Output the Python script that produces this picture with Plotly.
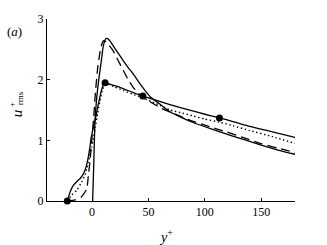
import plotly.graph_objects as go

# ---- data ----
solid1_x = [0.5, 1.5, 2.6, 4.1, 5.6, 7, 8.6, 10, 12.4, 15, 18.6, 23, 27.7, 32, 36.6, 42.6, 47, 52, 60, 69, 80, 90, 107, 120, 135, 150, 165, 180]
solid1_y = [0, 0.62, 1.33, 1.70, 1.95, 2.15, 2.37, 2.56, 2.68, 2.66, 2.56, 2.44, 2.31, 2.20, 2.09, 1.93, 1.82, 1.71, 1.60, 1.47, 1.37, 1.29, 1.18, 1.10, 1.01, 0.92, 0.84, 0.77]

dashed_x = [-22, -15, -10, -7.7, -4.7, -3.3, -1.8, -0.3, 1.5, 3, 5, 7, 8.5, 10, 12, 15, 18.6, 23, 27.7, 32, 36.6, 42, 47, 52, 60, 69, 87, 100, 119, 135, 149, 165, 180]
dashed_y = [0, 0.02, 0.06, 0.11, 0.20, 0.42, 0.67, 1.0, 1.4, 1.8, 2.2, 2.45, 2.58, 2.64, 2.63, 2.57, 2.48, 2.32, 2.15, 2.00, 1.87, 1.76, 1.68, 1.63, 1.54, 1.47, 1.33, 1.25, 1.14, 1.04, 0.95, 0.87, 0.80]

solid2_x = [-22, -19.5, -16.5, -13, -10.6, -8, -6.2, -4.5, -3.3, -2, -1.2, 0, 1.2, 3, 5, 7, 9, 11.5, 15, 20, 28, 36, 45, 55, 69, 80, 90, 100, 113, 125, 140, 160, 180]
solid2_y = [0, 0.15, 0.26, 0.33, 0.37, 0.44, 0.51, 0.62, 0.73, 0.88, 1.0, 1.12, 1.22, 1.36, 1.55, 1.72, 1.87, 1.95, 1.93, 1.90, 1.85, 1.79, 1.73, 1.67, 1.59, 1.53, 1.48, 1.43, 1.37, 1.31, 1.23, 1.14, 1.05]

dotted_x = [-22, -18, -13.5, -9.1, -6.2, -4.7, -3.3, -1.8, -0.3, 1.2, 3, 5, 7, 9, 11, 13, 20, 28, 36, 42.5, 50, 60, 69, 80, 90, 100, 113, 125, 140, 160, 180]
dotted_y = [0, 0.10, 0.18, 0.32, 0.43, 0.54, 0.64, 0.78, 0.89, 1.03, 1.22, 1.45, 1.65, 1.82, 1.91, 1.93, 1.88, 1.82, 1.76, 1.72, 1.66, 1.58, 1.50, 1.45, 1.40, 1.35, 1.30, 1.24, 1.16, 1.06, 0.95]

marker_x = [-22, 11.5, 45, 113]
marker_y = [0, 1.95, 1.73, 1.37]

x_ticks = [0, 50, 100, 150]
y_ticks = [0, 1, 2, 3]

# ---- layout geometry ----
W, H = 327, 245
L, R, T, B = 47, 295, 18.5, 201

def px(xp, yp):
    return (xp - L) / (R - L), (B - yp) / (B - T)

FONT = "Liberation Serif, Times New Roman, serif"
fig = go.Figure()
line_w = 1.3
fig.add_trace(go.Scatter(x=solid1_x, y=solid1_y, mode="lines",
                         line=dict(color="black", width=line_w, shape="spline", smoothing=0.5)))
fig.add_trace(go.Scatter(x=dashed_x, y=dashed_y, mode="lines",
                         line=dict(color="black", width=line_w, dash="9px,5px", shape="spline", smoothing=0.5)))
fig.add_trace(go.Scatter(x=solid2_x, y=solid2_y, mode="lines",
                         line=dict(color="black", width=line_w, shape="spline", smoothing=0.5)))
fig.add_trace(go.Scatter(x=dotted_x, y=dotted_y, mode="lines",
                         line=dict(color="black", width=1.4, dash="1.4px,2.6px", shape="spline", smoothing=0.5)))
fig.add_trace(go.Scatter(x=marker_x, y=marker_y, mode="markers",
                         marker=dict(color="black", size=7), cliponaxis=False))

axis_common = dict(showline=True, linecolor="black", linewidth=1, ticks="inside",
                   ticklen=3, tickcolor="black", showgrid=False, zeroline=False,
                   tickfont=dict(family=FONT, size=12, color="black"))
fig.update_xaxes(range=[-40, 180], tickvals=x_ticks, ticktext=[str(v) for v in x_ticks], **axis_common)
fig.update_yaxes(range=[0, 3], tickvals=y_ticks, ticktext=[str(v) for v in y_ticks], **axis_common)

ann = []
def add(text, xp, yp, size, angle=0):
    ax, ay = px(xp, yp)
    ann.append(dict(text=text, x=ax, y=ay, xref="paper", yref="paper", showarrow=False,
                    xanchor="center", yanchor="middle", textangle=angle,
                    font=dict(family=FONT, size=size, color="black")))

add("<i>y</i><sup>+</sup>", 166, 236, 14)
add("<i>u</i>", 17, 113, 15, -90)
add("+", 12, 105, 9, -90)
add("rms", 20, 98, 9, -90)
add("(<i>a</i>)", 14, 31, 13)

fig.update_layout(width=W, height=H, margin=dict(l=L, r=W - R, t=T, b=H - B),
                  plot_bgcolor="white", paper_bgcolor="white", showlegend=False,
                  hovermode=False, annotations=ann)

fig.write_html("out.html", config={"displayModeBar": False, "staticPlot": True},
               post_script="document.body.style.margin='0px';document.body.style.padding='0px';")
